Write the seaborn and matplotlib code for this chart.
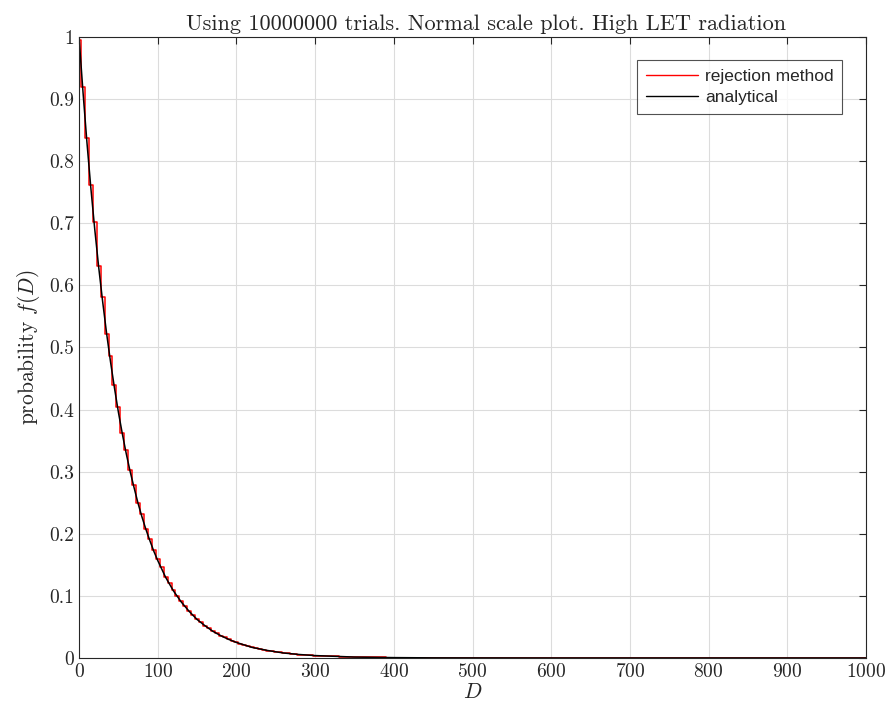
import numpy as np
import pandas as pd
import seaborn as sns
import matplotlib
matplotlib.use("Agg")
import matplotlib.pyplot as plt

# analytical curve
D_analytical = [0, 5, 10, 15, 20, 25, 30, 35, 40, 45, 50, 55, 60, 65, 70, 75, 80, 85, 90, 95,
                100, 110, 120, 130, 140, 150, 160, 170, 180, 190, 200, 220, 240, 260, 280, 300,
                350, 400, 450, 500, 600, 1000]
f_analytical = [1.000, 0.912, 0.831, 0.757, 0.690, 0.629, 0.574, 0.523, 0.477, 0.435, 0.396,
                0.361, 0.329, 0.300, 0.274, 0.249, 0.227, 0.207, 0.189, 0.172, 0.157, 0.130,
                0.108, 0.090, 0.075, 0.062, 0.052, 0.043, 0.036, 0.030, 0.025, 0.017, 0.012,
                0.008, 0.0056, 0.0039, 0.0015, 0.0006, 0.0002, 0.0001, 0.0, 0.0]

# rejection method histogram values
D_rejection = [0, 5, 10, 15, 20, 25, 30, 35, 40, 45, 50, 55, 60, 65, 70, 75, 80, 85, 90, 95,
               100, 105, 110, 115, 120, 125, 130, 135, 140, 145, 150, 155, 160, 165, 170, 175,
               180, 185, 190, 195, 200, 205, 210, 215, 220, 225, 230, 235, 240, 245, 250, 255,
               260, 265, 270, 275, 280, 285, 290, 295, 300, 320, 340, 360, 380, 400, 450, 500,
               600, 1000]
f_rejection = [0.995, 0.920, 0.838, 0.762, 0.702, 0.632, 0.582, 0.522, 0.486, 0.440, 0.404,
               0.362, 0.335, 0.302, 0.278, 0.250, 0.232, 0.208, 0.192, 0.174, 0.159, 0.146,
               0.131, 0.121, 0.110, 0.100, 0.091, 0.083, 0.076, 0.070, 0.063, 0.058, 0.052,
               0.048, 0.044, 0.040, 0.036, 0.033, 0.030, 0.028, 0.025, 0.0225, 0.0205, 0.0188,
               0.0171, 0.0156, 0.0142, 0.0129, 0.0118, 0.0107, 0.0098, 0.0089, 0.0081, 0.0074,
               0.0068, 0.0062, 0.0056, 0.0051, 0.0047, 0.0042, 0.0039, 0.0027, 0.0019, 0.0013,
               0.0009, 0.0006, 0.0002, 0.0001, 0.0, 0.0]

x_ticks = [0, 100, 200, 300, 400, 500, 600, 700, 800, 900, 1000]
y_ticks = [0, 0.1, 0.2, 0.3, 0.4, 0.5, 0.6, 0.7, 0.8, 0.9, 1]
y_tick_labels = ["0", "0.1", "0.2", "0.3", "0.4", "0.5", "0.6", "0.7", "0.8", "0.9", "1"]

sns.set_style("whitegrid")
plt.rcParams["font.family"] = ["cmr10", "DejaVu Serif"]
plt.rcParams["mathtext.fontset"] = "cm"
plt.rcParams["axes.formatter.use_mathtext"] = True

rej = pd.DataFrame({"D": D_rejection, "f": f_rejection})
ana = pd.DataFrame({"D": D_analytical, "f": f_analytical})

fig = plt.figure(figsize=(8.89, 7.17), dpi=100)
ax = fig.add_axes([0.0889, 0.0823, 0.8853, 0.8661])

sns.lineplot(data=rej, x="D", y="f", ax=ax, color="red", linewidth=1.1,
             drawstyle="steps-mid", label="rejection method")
sns.lineplot(data=ana, x="D", y="f", ax=ax, color="black", linewidth=1.1,
             label="analytical")

ax.set_xlim(0, 1000)
ax.set_ylim(0, 1)
ax.set_xticks(x_ticks)
ax.set_yticks(y_ticks)
ax.set_yticklabels(y_tick_labels)
ax.tick_params(axis="both", labelsize=14, direction="in", length=5, width=0.8,
               colors="#262626", top=True, right=True)
ax.grid(True, color="#dcdcdc", linewidth=0.8)
for s in ax.spines.values():
    s.set_color("#262626")
    s.set_linewidth(0.8)

ax.set_title("Using 10000000 trials. Normal scale plot. High LET radiation", fontsize=16,
             pad=5, x=0.517)
ax.set_xlabel("$D$", fontsize=15.5, labelpad=1)
ax.set_ylabel("probability $f(D)$", fontsize=15.5, labelpad=5)

leg = ax.legend(loc="upper right", bbox_to_anchor=(0.9695, 0.963), borderaxespad=0,
                prop={"family": "Liberation Sans", "size": 12.5}, frameon=True, fancybox=False,
                edgecolor="#262626", handlelength=3.0, handletextpad=0.4, borderpad=0.5,
                labelspacing=0.35)
leg.get_frame().set_linewidth(0.8)
for h in leg.get_lines():
    h.set_linewidth(1.0)

fig.savefig("out.png", dpi=100)
